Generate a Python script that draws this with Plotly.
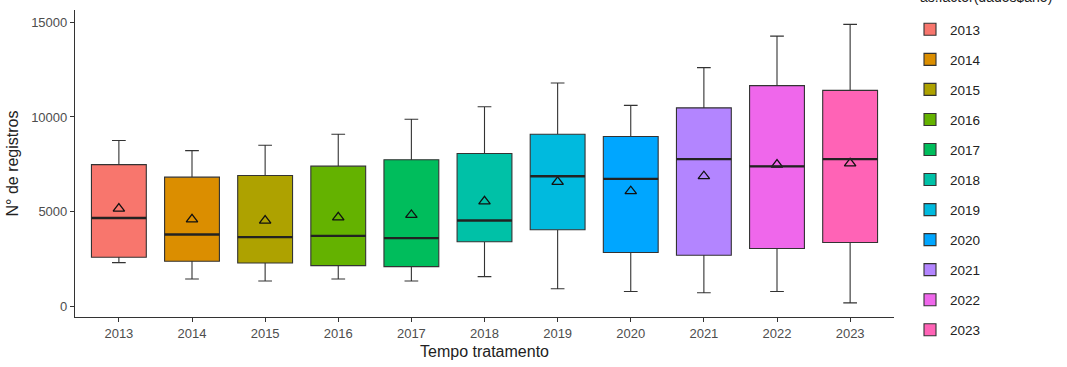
import plotly.graph_objects as go

# Yearly summary statistics of the number of records
anos = ["2013", "2014", "2015", "2016", "2017", "2018", "2019", "2020", "2021", "2022", "2023"]
lim_inf = [2330, 1470, 1360, 1470, 1360, 1590, 950, 810, 740, 810, 210]
q1 = [2615, 2400, 2310, 2170, 2120, 3425, 4060, 2860, 2720, 3070, 3390]
mediana = [4680, 3810, 3670, 3740, 3620, 4550, 6880, 6740, 7780, 7400, 7780]
q3 = [7490, 6830, 6920, 7410, 7750, 8080, 9090, 8970, 10480, 11650, 11400]
lim_sup = [8760, 8230, 8510, 9090, 9880, 10540, 11790, 10610, 12600, 14260, 14880]
media = [5170, 4610, 4540, 4710, 4840, 5560, 6580, 6090, 6880, 7490, 7560]

y_ticks = [0, 5000, 10000, 15000]
y_tick_labels = ["0", "5000", "10000", "15000"]

# ggplot2 default hue palette for 11 levels
cores = ["#F8766D", "#DB8E00", "#AEA200", "#64B200", "#00BD5C", "#00C1A7",
         "#00BADE", "#00A6FF", "#B385FF", "#EF67EB", "#FF63B6"]

LARGURA = 0.75
CONTORNO = "#333333"

fig = go.Figure()

for i, ano in enumerate(anos):
    fig.add_trace(go.Box(
        x=[ano],
        q1=[q1[i]], median=[mediana[i]], q3=[q3[i]],
        lowerfence=[lim_inf[i]], upperfence=[lim_sup[i]],
        name=ano,
        legendgroup=ano,
        fillcolor=cores[i],
        line=dict(color=CONTORNO, width=1.1),
        width=LARGURA,
        whiskerwidth=0.25,
        boxpoints=False,
        hoverinfo="skip",
    ))
    # thicker median line, as in ggplot2
    fig.add_shape(type="line", xref="x", yref="y",
                  x0=i - LARGURA / 2, x1=i + LARGURA / 2,
                  y0=mediana[i], y1=mediana[i],
                  line=dict(color="#222222", width=2.4), layer="above")

# mean markers
fig.add_trace(go.Scatter(
    x=anos, y=media, mode="markers",
    marker=dict(symbol="triangle-up-open", size=10, color="#111111",
                line=dict(width=1.3)),
    showlegend=False, hoverinfo="skip",
))

FONTE = "Liberation Sans, Arial, sans-serif"

fig.update_layout(
    width=1067, height=367,
    margin=dict(l=75, r=173, t=10, b=50),
    paper_bgcolor="white", plot_bgcolor="white",
    boxmode="overlay",
    font=dict(family=FONTE, size=13, color="#4D4D4D"),
    showlegend=True,
    legend=dict(
        xref="container", yref="container",
        x=910 / 1067, xanchor="left",
        y=1 - 14 / 367, yanchor="top",
        font=dict(size=13.5, color="#222222", family=FONTE),
        tracegroupgap=9.5,
        maxheight=400,
        bgcolor="rgba(0,0,0,0)",
    ),
    annotations=[dict(
        text="as.factor(dados$ano)", xref="paper", yref="paper",
        x=(918 - 75) / 819, y=1 + 13 / 307, xanchor="left", yanchor="middle",
        showarrow=False, font=dict(size=14, color="#222222", family=FONTE),
    )],
)

fig.update_xaxes(
    type="category", categoryorder="array", categoryarray=anos,
    range=[-0.6, len(anos) - 0.4],
    showline=True, linecolor="#333333", linewidth=1.2,
    ticks="outside", ticklen=4, tickcolor="#333333",
    showgrid=False, zeroline=False,
    tickfont=dict(size=13, color="#4D4D4D"),
    title=dict(text="Tempo tratamento", font=dict(size=16, color="#222222"), standoff=6),
)
fig.update_yaxes(
    range=[-535, 15635],
    tickvals=y_ticks, ticktext=y_tick_labels,
    showline=True, linecolor="#333333", linewidth=1.2,
    ticks="outside", ticklen=4, tickcolor="#333333",
    showgrid=False, zeroline=False,
    tickfont=dict(size=13, color="#4D4D4D"),
    title=dict(text="N° de registros", font=dict(size=16, color="#222222"), standoff=8),
)

fig.write_html("out.html")
